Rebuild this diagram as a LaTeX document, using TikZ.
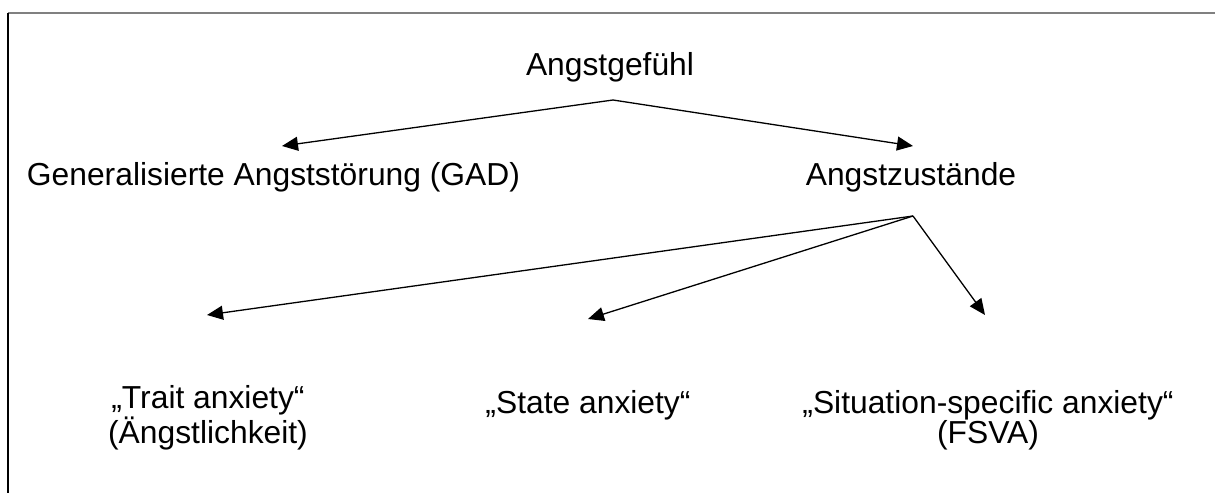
\documentclass[tikz,border=0pt]{standalone}
\usepackage{fontspec}
\setmainfont{Liberation Sans}
\usetikzlibrary{arrows.meta}
\begin{document}
\begin{tikzpicture}[x=1pt,y=-1pt,
  lbl/.style={inner sep=0pt, anchor=base, align=center, font=\fontsize{31.8}{30}\selectfont},
  arr/.style={line width=1.3pt, -{Triangle[length=16pt,width=14pt]}},
  frametop/.style={draw=black!50, line width=2pt},
  frameleft/.style={draw=black, line width=1.3pt}]
\useasboundingbox (0,0) rectangle (1215,493);
% frame
\coordinate (fTL) at (8,13);
\coordinate (fTR) at (1215,13);
\coordinate (fBL) at (8,493);
\draw[frametop] (fTL) -- (fTR);
\draw[frameleft] (fTL) -- (fBL);
% labels (base anchor = baseline of the last line)
\node[lbl] (gef) at (610,75) {Angstgefühl};
\node[lbl] (gad) at (273.5,185) {Generalisierte Angststörung (GAD)};
\node[lbl] (zus) at (911,185) {Angstzustände};
\node[lbl] (trait) at (208,443) {„Trait anxiety“\\(Ängstlichkeit)};
\node[lbl] (state) at (588,413) {„State anxiety“};
\node[lbl] (sit) at (988,443) {„Situation-specific anxiety“\\(FSVA)};
% connector points
\coordinate (gefA) at (613,100);
\coordinate (zusA) at (913,216);
\coordinate (tGad) at (282,146);
\coordinate (tZus) at (913,146);
\coordinate (tTrait) at (207,315);
\coordinate (tState) at (588,319);
\coordinate (tSit) at (985,315);
% arrows
\draw[arr] (gefA) -- (tGad);
\draw[arr] (gefA) -- (tZus);
\draw[arr] (zusA) -- (tTrait);
\draw[arr] (zusA) -- (tState);
\draw[arr] (zusA) -- (tSit);
\end{tikzpicture}
\end{document}
